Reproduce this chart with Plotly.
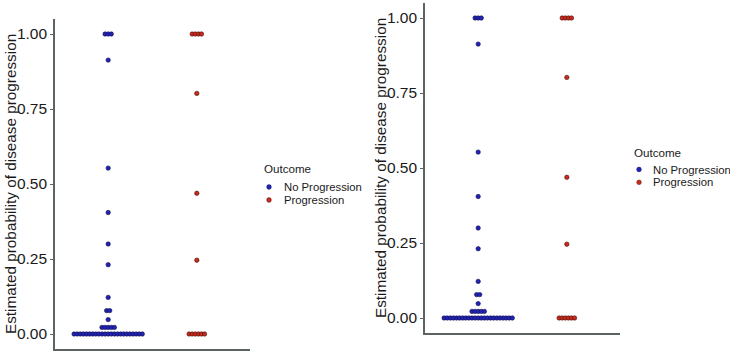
import plotly.graph_objects as go

# ---- data ----
groups = ["No Progression", "Progression"]
no_prog_levels = [0.0, 0.022, 0.048, 0.078, 0.122, 0.231, 0.300, 0.405, 0.553, 0.913, 1.0]
no_prog_counts = [23, 5, 1, 2, 1, 1, 1, 1, 1, 1, 3]
prog_levels = [0.0, 0.246, 0.469, 0.802, 1.0]
prog_counts = [6, 1, 1, 1, 4]
y_ticks = [0.0, 0.25, 0.5, 0.75, 1.0]
y_tick_labels = ["0.00", "0.25", "0.50", "0.75", "1.00"]
y_title = "Estimated probability of disease progression"
legend_title = "Outcome"

fill_colors = {"No Progression": "#2222b8", "Progression": "#c82a1c"}
edge_colors = {"No Progression": "#101045", "Progression": "#4a1410"}

W, H = 730, 353
FONT = "Liberation Sans, Arial, Helvetica, sans-serif"
AXCOL = "#5b6363"


def fx(x):
    return x / W


def fy(y):
    return 1 - y / H


def dot_positions(center, levels, counts, pitch=0.035):
    xs, ys = [], []
    for lv, n in zip(levels, counts):
        for i in range(n):
            xs.append(center + (i - (n - 1) / 2) * pitch)
            ys.append(lv)
    return xs, ys


panels = [
    dict(x0=55, x1=250, yt=19, yb=349, lg=(261.7, 168, 269, 281.7, 187, 200), tx=10),
    dict(x0=425, x1=620, yt=3, yb=333, lg=(632, 152, 639, 650.5, 169.5, 182.3), tx=380),
]

fig = go.Figure()
annotations = []
shapes = []

data = {
    "No Progression": (no_prog_levels, no_prog_counts, 1),
    "Progression": (prog_levels, prog_counts, 2),
}

for k, p in enumerate(panels):
    sfx = "" if k == 0 else str(k + 1)
    for g in groups:
        lv, ct, c = data[g]
        xs, ys = dot_positions(c, lv, ct)
        fig.add_trace(go.Scatter(
            x=xs, y=ys, mode="markers", name=g, showlegend=False,
            xaxis="x" + sfx, yaxis="y" + sfx,
            marker=dict(size=4.4, color=fill_colors[g],
                        line=dict(color=edge_colors[g], width=0.6)),
            hoverinfo="y",
        ))
    xa = dict(domain=[fx(p["x0"]), fx(p["x1"])], range=[0.4, 2.6],
              showline=True, linecolor=AXCOL, linewidth=1.6,
              showticklabels=False, ticks="", showgrid=False, zeroline=False,
              anchor="y" + sfx)
    ya = dict(domain=[fy(p["yb"]), fy(p["yt"])], range=[-0.05, 1.05],
              showline=True, linecolor=AXCOL, linewidth=1.6,
              tickvals=y_ticks, ticktext=y_tick_labels, ticks="outside",
              ticklen=3, tickwidth=1, tickcolor=AXCOL,
              tickfont=dict(family=FONT, size=15.5, color="#1a1a1a"),
              showgrid=False, zeroline=False, anchor="x" + sfx)
    fig.layout["xaxis" + sfx] = xa
    fig.layout["yaxis" + sfx] = ya

    annotations.append(dict(
        text=y_title, textangle=-90, xref="paper", yref="paper",
        x=fx(p["tx"]), y=fy((p["yt"] + p["yb"]) / 2), xanchor="center", yanchor="middle",
        showarrow=False, font=dict(family=FONT, size=15.3, color="#1a1a1a")))

    tx, ty, kx, tx2, iy1, iy2 = p["lg"]
    annotations.append(dict(
        text=legend_title, xref="paper", yref="paper", x=fx(tx), y=fy(ty),
        xanchor="left", yanchor="middle", showarrow=False,
        font=dict(family=FONT, size=11.6, color="#1a1a1a")))
    for g, iy in zip(groups, [iy1, iy2]):
        annotations.append(dict(
            text=g, xref="paper", yref="paper", x=fx(tx2), y=fy(iy),
            xanchor="left", yanchor="middle", showarrow=False,
            font=dict(family=FONT, size=11.3, color="#1a1a1a")))
        r = 2.4
        shapes.append(dict(
            type="circle", xref="paper", yref="paper",
            x0=fx(kx - r), x1=fx(kx + r), y0=fy(iy + r), y1=fy(iy - r),
            fillcolor=fill_colors[g], line=dict(color=edge_colors[g], width=0.4)))

fig.update_layout(
    width=W, height=H, margin=dict(l=0, r=0, t=0, b=0),
    paper_bgcolor="white", plot_bgcolor="white",
    annotations=annotations, shapes=shapes, showlegend=False,
    font=dict(family=FONT),
)

fig.write_html(
    "out.html",
    config={"displayModeBar": False},
    post_script="document.body.style.margin='0';document.body.style.padding='0';document.body.style.overflow='hidden';",
)
